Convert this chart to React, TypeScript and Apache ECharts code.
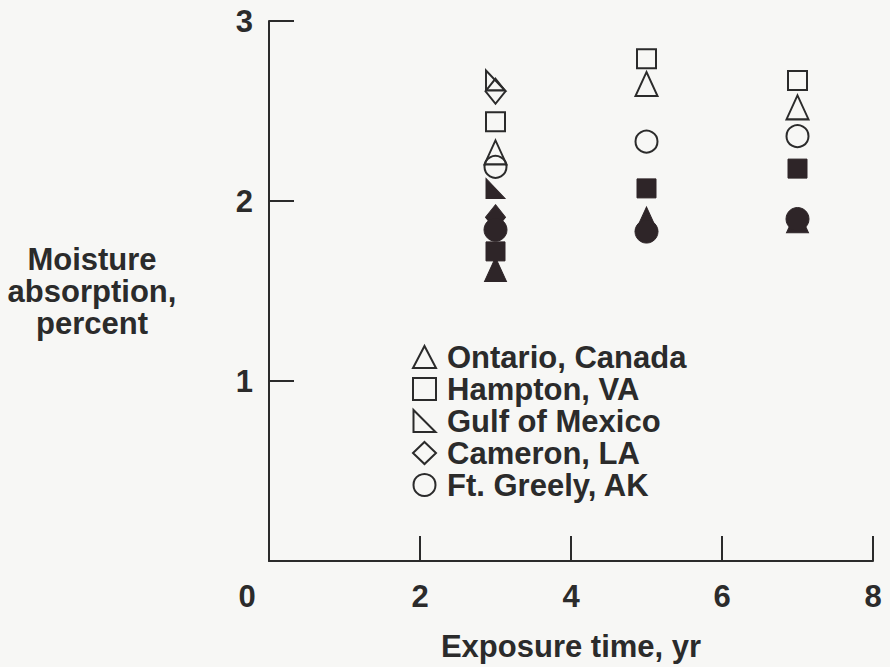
import React, { useEffect, useRef } from "react";
import * as echarts from "echarts";

// Site names (legend entries, open symbols)
const sites = ["Ontario, Canada", "Hampton, VA", "Gulf of Mexico", "Cameron, LA", "Ft. Greely, AK"];

// Exposure times in years
const years = [3, 5, 7];

// Moisture absorption (percent), open symbols; null = not measured
const openOntario = [2.27, 2.65, 2.52];
const openHampton = [2.44, 2.79, 2.67];
const openGulf = [2.67, null, null];
const openCameron = [2.61, null, null];
const openGreely = [2.19, 2.33, 2.36];

// Moisture absorption (percent), filled symbols
const filledOntario = [1.62, 1.9, 1.89];
const filledHampton = [1.72, 2.07, 2.18];
const filledGulf = [2.07, null, null];
const filledCameron = [1.91, null, null];
const filledGreely = [1.84, 1.83, 1.9];

// Axis tick values
const xTicks = [0, 2, 4, 6, 8];
const yTicks = [0, 1, 2, 3];

const INK = "#2b2b2b";
const FILL = "#2e2528";
const BG = "#f7f7f5";
const FONT = "Liberation Sans, Arial, Helvetica, sans-serif";

const RIGHT_TRI = "path://M0,0L0,20L20,20Z";

const symbols: { symbol: string; size: number[] }[] = [
  { symbol: "triangle", size: [22, 24] },
  { symbol: "rect", size: [19, 19] },
  { symbol: RIGHT_TRI, size: [19, 20] },
  { symbol: "diamond", size: [20, 25] },
  { symbol: "circle", size: [22, 22] },
];

const openSets = [openOntario, openHampton, openGulf, openCameron, openGreely];
const filledSets = [filledOntario, filledHampton, filledGulf, filledCameron, filledGreely];

function pairs(vals: (number | null)[]) {
  return years
    .map((x, i) => [x, vals[i]])
    .filter((p) => p[1] !== null);
}

export default function App() {
  const ref = useRef<HTMLDivElement>(null);

  useEffect(() => {
    if (!ref.current) return;
    const chart = echarts.init(ref.current, null, { renderer: "svg" });

    const filledSeries = filledSets.map((vals, i) => ({
      name: sites[i] + " ",
      type: "scatter",
      symbol: symbols[i].symbol,
      symbolSize: symbols[i].symbol === "circle" ? [23, 23] : symbols[i].size,
      symbolKeepAspect: true,
      itemStyle: { color: FILL, borderColor: FILL, borderWidth: 1, opacity: 1 },
      emphasis: { disabled: true },
      z: 2,
      data: pairs(vals),
    }));

    const openSeries = openSets.map((vals, i) => ({
      name: sites[i],
      type: "scatter",
      symbol: symbols[i].symbol,
      symbolSize: symbols[i].size,
      symbolKeepAspect: true,
      itemStyle: { color: "rgba(0,0,0,0)", borderColor: INK, borderWidth: 2, opacity: 1 },
      emphasis: { disabled: true },
      z: 3,
      data: pairs(vals),
    }));

    const tickText = {
      fontFamily: FONT,
      fontSize: 31,
      fontWeight: "bold" as const,
      color: INK,
    };

    chart.setOption({
      animation: false,
      backgroundColor: BG,
      textStyle: { fontFamily: FONT },
      grid: { left: 269, right: 17, top: 21, bottom: 104 },
      legend: {
        data: sites,
        orient: "vertical",
        left: 407,
        top: 336,
        itemWidth: 23,
        itemHeight: 22,
        itemGap: 0,
        selectedMode: false,
        textStyle: { ...tickText, lineHeight: 32, padding: [0, 0, 0, 6] },
      },
      xAxis: {
        type: "value",
        min: xTicks[0],
        max: xTicks[xTicks.length - 1],
        interval: xTicks[1] - xTicks[0],
        name: "Exposure time, yr",
        nameLocation: "middle",
        nameGap: 70,
        nameTextStyle: { ...tickText },
        axisLine: { show: true, onZero: false, lineStyle: { color: INK, width: 2 } },
        axisTick: { show: true, inside: true, length: 25, lineStyle: { color: INK, width: 2 } },
        splitLine: { show: false },
        axisLabel: {
          ...tickText,
          margin: 20,
          formatter: (v: number) => (v === 0 ? "{z|0}" : String(v)),
          rich: { z: { ...tickText, padding: [0, 44, 0, 0] } },
        },
      },
      yAxis: {
        type: "value",
        min: yTicks[0],
        max: yTicks[yTicks.length - 1],
        interval: yTicks[1] - yTicks[0],
        name: "Moisture\nabsorption,\npercent",
        nameLocation: "middle",
        nameRotate: 0,
        nameGap: 177,
        nameTextStyle: { ...tickText, lineHeight: 32, align: "center", verticalAlign: "middle" },
        axisLine: { show: true, onZero: false, lineStyle: { color: INK, width: 2 } },
        axisTick: { show: true, inside: true, length: 25, lineStyle: { color: INK, width: 2 } },
        splitLine: { show: false },
        axisLabel: {
          ...tickText,
          margin: 16,
          formatter: (v: number) => (v === 0 ? "" : String(v)),
        },
      },
      series: [...filledSeries, ...openSeries],
    });

    return () => chart.dispose();
  }, []);

  return (
    <div
      ref={ref}
      style={{ position: "fixed", left: 0, top: 0, width: 890, height: 667, background: BG }}
    />
  );
}
